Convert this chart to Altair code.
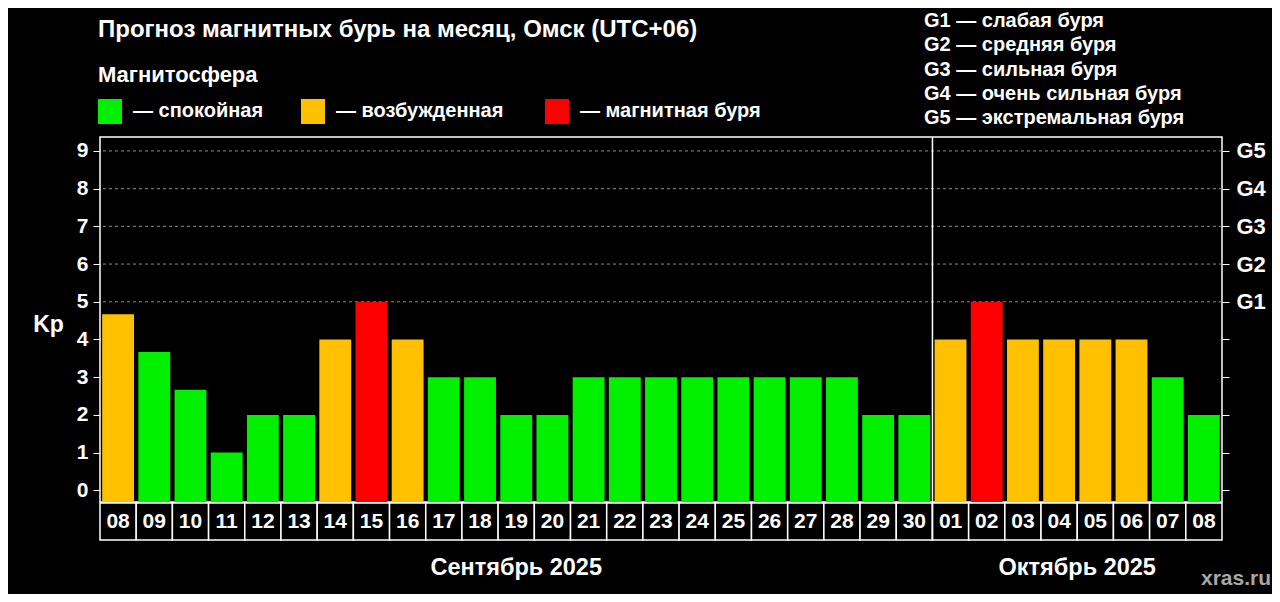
import altair as alt
import pandas as pd

# ---------------- data ----------------
keys = ["09-08", "09-09", "09-10", "09-11", "09-12", "09-13", "09-14", "09-15",
        "09-16", "09-17", "09-18", "09-19", "09-20", "09-21", "09-22", "09-23",
        "09-24", "09-25", "09-26", "09-27", "09-28", "09-29", "09-30",
        "10-01", "10-02", "10-03", "10-04", "10-05", "10-06", "10-07", "10-08"]
days = ["08", "09", "10", "11", "12", "13", "14", "15", "16", "17", "18", "19",
        "20", "21", "22", "23", "24", "25", "26", "27", "28", "29", "30",
        "01", "02", "03", "04", "05", "06", "07", "08"]
kp = [4.67, 3.67, 2.67, 1, 2, 2, 4, 5, 4, 3, 3, 2, 2, 3, 3, 3, 3, 3, 3, 3, 3, 2, 2,
      4, 5, 4, 4, 4, 4, 3, 2]
status = ["возбужденная", "спокойная", "спокойная", "спокойная", "спокойная", "спокойная",
          "возбужденная", "магнитная буря", "возбужденная", "спокойная", "спокойная",
          "спокойная", "спокойная", "спокойная", "спокойная", "спокойная", "спокойная",
          "спокойная", "спокойная", "спокойная", "спокойная", "спокойная", "спокойная",
          "возбужденная", "магнитная буря", "возбужденная", "возбужденная", "возбужденная",
          "возбужденная", "спокойная", "спокойная"]
categories = ["спокойная", "возбужденная", "магнитная буря"]
cat_colors = ["#00F000", "#FFC000", "#FF0000"]
grid_vals = [5, 6, 7, 8, 9]
y_ticks = [0, 1, 2, 3, 4, 5, 6, 7, 8, 9]
g_legend = ["G1 — слабая буря", "G2 — средняя буря", "G3 — сильная буря",
            "G4 — очень сильная буря", "G5 — экстремальная буря"]
separator_keys = ["10-01"]
month_sep = ["Сентябрь 2025"]
month_oct = ["Октябрь 2025"]
title_text = "Прогноз магнитных бурь на месяц, Омск (UTC+06)"
subtitle_text = "Магнитосфера"
source_text = "xras.ru"

df = pd.DataFrame({"key": keys, "day": days, "kp": kp, "status": status})

# ---------------- layout ----------------
W, H = 1122, 365
YMIN, YMAX = -0.31, 9.37
FONT = "Liberation Sans, Arial, sans-serif"

xscale = alt.Scale(domain=keys, paddingInner=0, paddingOuter=0)
yscale = alt.Scale(domain=[YMIN, YMAX], nice=False, zero=False)
X = lambda **kw: alt.X("key:N", scale=xscale, axis=None, **kw)

axis_style = dict(values=y_ticks, labelFontWeight="bold",
                  labelColor="white", labelFont=FONT, tickColor="white", tickSize=7,
                  tickWidth=1, domain=False, grid=False)

grid = alt.Chart(pd.DataFrame({"g": grid_vals})).mark_rule(
    color="#8a8a8a", strokeDash=[3, 3], strokeWidth=1
).encode(
    y=alt.Y("g:Q", scale=yscale,
            axis=alt.Axis(orient="right", title="", labelFontSize=22, labelPadding=7,
                          labelExpr="datum.value >= 5 ? 'G' + (datum.value - 4) : ''",
                          labelAlign="left", **axis_style))
)

bars = alt.Chart(df).mark_bar(width=alt.RelativeBandSize(0.88)).encode(
    x=X(),
    y=alt.Y("kp:Q", scale=yscale,
            axis=alt.Axis(orient="left", title="Kp", titleAngle=0, titleFontSize=23,
                          titleFontWeight="bold", titleColor="white", titleFont=FONT,
                          titleX=-52, titleY=187, titleAlign="center",
                          titleBaseline="middle", labelFontSize=21, labelPadding=5,
                          **axis_style)),
    y2=alt.Y2(datum=YMIN),
    color=alt.Color("status:N", scale=alt.Scale(domain=categories, range=cat_colors),
                    legend=None),
)

cells = alt.Chart(df).mark_rect(fill="black", stroke="white", strokeWidth=1.5).encode(
    x=X(), y=alt.value(366), y2=alt.value(403)
)

day_text = alt.Chart(df).mark_text(
    color="white", fontSize=21, fontWeight="bold", font=FONT, baseline="middle"
).encode(x=X(), y=alt.value(385), text="day:N")

sep = alt.Chart(pd.DataFrame({"key": separator_keys})).mark_rule(
    color="white", strokeWidth=1.5
).encode(x=X(bandPosition=0), y=alt.value(0), y2=alt.value(403))

sep_label = alt.Chart(pd.DataFrame({"key": ["09-19"], "t": month_sep})).mark_text(
    color="white", fontSize=23.5, fontWeight="bold", font=FONT, baseline="middle"
).encode(x=X(bandPosition=0.5), y=alt.value(431), text="t:N")

oct_label = alt.Chart(pd.DataFrame({"key": ["10-05"], "t": month_oct})).mark_text(
    color="white", fontSize=23.5, fontWeight="bold", font=FONT, baseline="middle"
).encode(x=X(bandPosition=0), y=alt.value(431), text="t:N")

one = pd.DataFrame({"a": [0]})


def txt(s, x, y, size=20, color="white", align="left", weight="bold", **kw):
    return alt.Chart(one).mark_text(
        text=s, color=color, fontSize=size, fontWeight=weight, font=FONT,
        align=align, baseline="middle", **kw
    ).encode(x=alt.value(x), y=alt.value(y))


layers = [grid, bars, cells, day_text, sep, sep_label, oct_label,
          txt(title_text, -2, -107, size=24),
          txt(subtitle_text, -2, -62, size=22),
          txt(g_legend, 824, -116, size=20, lineHeight=24.3),
          txt(source_text, 1136, 442, size=21, color="#a8a8a8", align="center")]

sw_x = [-2, 201, 445]
for cat, col, sx in zip(categories, cat_colors, sw_x):
    layers.append(
        alt.Chart(one).mark_rect(color=col).encode(
            x=alt.value(sx), x2=alt.value(sx + 24), y=alt.value(-38), y2=alt.value(-13)
        )
    )
    layers.append(txt("— " + cat, sx + 35, -26, size=20))

chart = alt.layer(*layers).resolve_axis(y="independent").properties(
    width=W, height=H, autosize="none",
    padding={"left": 92, "top": 129, "right": 50, "bottom": 92},
    background="black",
).configure_view(stroke="white", strokeWidth=1.5)

chart.save("out.html", embed_options={"renderer": "svg", "actions": False})
